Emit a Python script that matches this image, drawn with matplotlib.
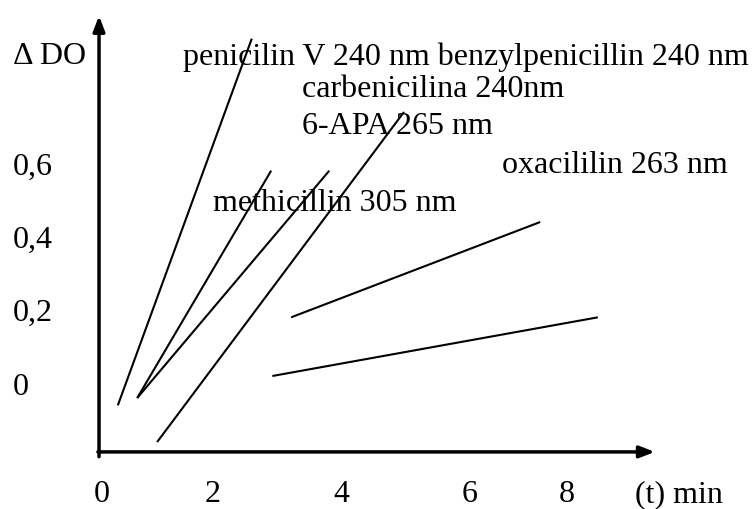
import matplotlib
matplotlib.use("Agg")
import matplotlib.pyplot as plt

# Data (schematic kinetics, Delta DO vs time in min)
series_names = ["penicilin V", "benzylpenicillin", "carbenicilina", "6-APA", "oxacililin", "methicillin"]
x_start = [0.33, 0.67, 0.67, 1.02, 3.37, 3.04]
y_start = [-0.05, -0.03, -0.03, -0.15, 0.19, 0.03]
x_end = [2.68, 3.02, 4.04, 5.35, 7.74, 8.75]
y_end = [0.95, 0.59, 0.59, 0.75, 0.45, 0.19]

x_tick_labels = ["0", "2", "4", "6", "8"]
x_tick_pos = [0.05, 2.0, 4.26, 6.5, 8.2]
y_tick_labels = ["0", "0,2", "0,4", "0,6"]
y_tick_pos = [0.0, 0.2, 0.4, 0.6]

annotations = [
    ("penicilin V 240 nm benzylpenicillin 240 nm", 1.47, 0.90),
    ("carbenicilina 240nm", 3.56, 0.81),
    ("6-APA 265 nm", 3.56, 0.71),
    ("oxacililin 263 nm", 7.07, 0.605),
    ("methicillin 305 nm", 2.0, 0.50),
]

plt.rcParams["font.family"] = ["Liberation Serif", "DejaVu Serif"]

fig = plt.figure(figsize=(7.54, 5.09), dpi=100)
ax = fig.add_axes([0, 0, 1, 1])
ax.set_xlim(-1.737, 11.49)
ax.set_ylim(-0.3327, 1.0554)
ax.axis("off")

# axes with arrows
arrow = dict(arrowstyle="-|>,head_length=0.9,head_width=0.35", color="black", lw=2.5,
             shrinkA=0, shrinkB=0)
ax.annotate("", xy=(0, 1.012), xytext=(0, -0.19), arrowprops=arrow)
ax.annotate("", xy=(9.75, -0.177), xytext=(-0.02, -0.177), arrowprops=arrow)

# lines
for i in range(len(series_names)):
    ax.plot([x_start[i], x_end[i]], [y_start[i], y_end[i]], color="black", lw=1.5,
            solid_capstyle="butt")

fs = 23
for lab, xp in zip(x_tick_labels, x_tick_pos):
    ax.text(xp, -0.313, lab, ha="center", va="baseline", fontsize=fs)
ax.text(9.41, -0.313, "(t) min", ha="left", va="baseline", fontsize=fs)

for lab, yp in zip(y_tick_labels, y_tick_pos):
    ax.text(-1.51, yp, lab, ha="left", va="center", fontsize=fs)
ax.text(-1.51, 0.90, "\u0394 DO", ha="left", va="center", fontsize=fs)

for txt, xp, yp in annotations:
    ax.text(xp, yp, txt, ha="left", va="center", fontsize=fs)

fig.savefig("out.png", dpi=100)
